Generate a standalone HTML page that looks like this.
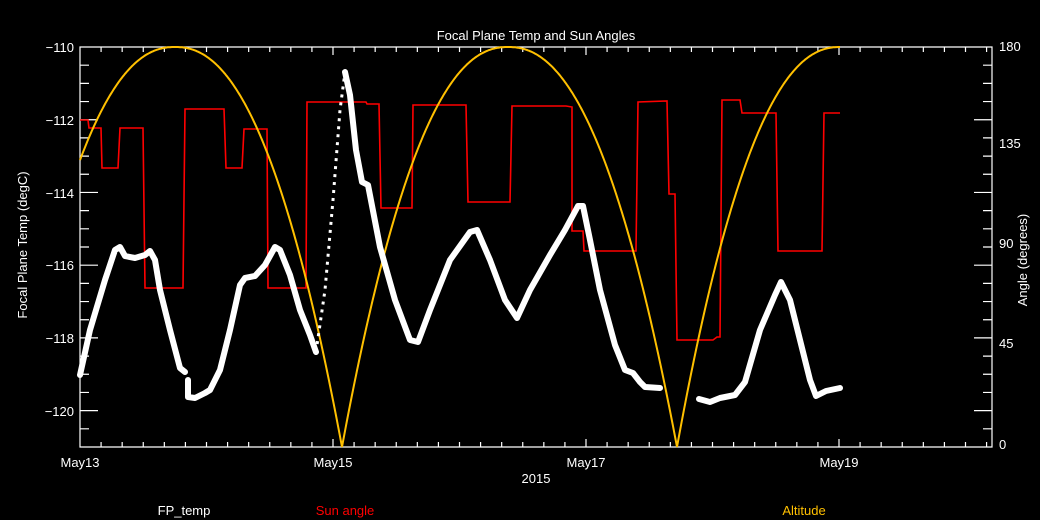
<!DOCTYPE html>
<html><head><meta charset="utf-8"><style>
html,body{margin:0;padding:0;background:#000;}
svg{display:block;}
text{font-family:"Liberation Sans",sans-serif;font-size:13px;fill:#fff;}
</style></head><body>
<svg id="s" width="1040" height="520" xmlns="http://www.w3.org/2000/svg">
<rect width="1040" height="520" fill="#000"/>
<g id="ax" stroke="#fff" stroke-width="1.2" fill="none"></g>
<polyline fill="none" stroke="#ff0000" stroke-width="1.6" points="80,120 88,120 89,128 101,128 102,168 118,168 120,128 143,128 145,288 183,288 185,109 224,109 226,168 242,168 244,129 267,129 268,288 306,288 307,102 366,102 367,104 379,104 381,208 412,208 413,105 466,105 468,202 510,202 512,106 566,106 572,107 572,231 583,231 584,251 636,251 638,102 667,101 669,194 675,194 677,340 713,340 717,337 720,337 722,100 740,100 742,113 776,113 778,251 822,251 824,113 840,113"/>
<polyline id="alt" fill="none" stroke="#ffc000" stroke-width="2"/>
<g fill="none" stroke="#fff" stroke-width="6" stroke-linejoin="round" stroke-linecap="round">
<polyline points="80,375 90,330 105,280 115,250 120,247 125,256 135,258 145,255 150,251 155,260 160,290 170,330 180,368 185,372"/>
<polyline points="188,380 188,397 195,398 205,393 210,390 220,370 230,330 240,285 245,278 255,276 265,265 275,247 280,250 290,275 300,310 310,335 316,352"/>
<polyline points="345,72 350,95 356,150 362,182 368,185 380,247 395,300 410,340 418,342 430,310 450,260 470,232 477,230 490,260 505,300 517,318 530,290 550,255 565,230 578,206 583,206 590,240 600,290 615,345 625,370 633,373 640,382 645,387 660,388"/>
<polyline points="699,399 710,402 720,398 735,395 745,382 760,330 775,295 781,282 790,300 800,340 810,380 816,396 826,391 840,388"/>
</g>
<polyline fill="none" stroke="#fff" stroke-width="3" stroke-dasharray="3,5" points="316,352 325,290 333,200 340,110 345,72"/>
<text x="536" y="40" text-anchor="middle" font-size="14">Focal Plane Temp and Sun Angles</text>
<g text-anchor="end">
<text x="74" y="52">−110</text><text x="74" y="125">−112</text><text x="74" y="198">−114</text>
<text x="74" y="270">−116</text><text x="74" y="343">−118</text><text x="74" y="416">−120</text>
</g>
<g>
<text x="999" y="51">180</text><text x="999" y="148">135</text><text x="999" y="248">90</text>
<text x="999" y="348">45</text><text x="999" y="449">0</text>
</g>
<text transform="translate(27,245) rotate(-90)" text-anchor="middle">Focal Plane Temp (degC)</text>
<text transform="translate(1027,260) rotate(-90)" text-anchor="middle">Angle (degrees)</text>
<g text-anchor="middle">
<text x="80" y="467">May13</text><text x="333" y="467">May15</text><text x="586" y="467">May17</text><text x="839" y="467">May19</text>
<text x="536" y="483">2015</text>
</g>
<text x="184" y="515" text-anchor="middle">FP_temp</text>
<text x="345" y="515" text-anchor="middle" style="fill:#ff0000">Sun angle</text>
<text x="804" y="515" text-anchor="middle" style="fill:#ffc000">Altitude</text>
</svg>
<script>
var ax=document.getElementById('ax'),d='M80,47H992V447H80Z';
var L=80,R=992,T=47,B=447;
for(var i=0;i<=22;i++){var y=T+i*400/22;var len=(i%4==0)?18:9;d+='M'+L+','+y+'h'+len+'M'+R+','+y+'h'+(-len);}
for(var x=L;x<=R;x+=126.5/6){var major=Math.abs(((x-L)/126.5)%2)<0.01||Math.abs(((x-L)/126.5)%2-2)<0.01;var len=major?8:5;d+='M'+x+','+B+'v'+(-len)+'M'+x+','+T+'v'+len;}
var p=document.createElementNS('http://www.w3.org/2000/svg','path');p.setAttribute('d',d);ax.appendChild(p);
var segs=[[80,175,167],[175,342,167],[342,508,166],[508,677,169],[677,840,163]];
var pts=[];
for(var x=80;x<=840;x+=1){var pk,H;
if(x<=175){pk=175;H=167}else if(x<=342){pk=175;H=167}else if(x<=508){pk=508;H=166}else if(x<=677){pk=508;H=169}else{pk=840;H=163}
var dd=Math.min(Math.abs(x-pk)/H,1);var a=180*(1-Math.pow(dd,2.24));pts.push(x+','+(447-a*400/180).toFixed(1));}
document.getElementById('alt').setAttribute('points',pts.join(' '));
</script>
</body></html>
